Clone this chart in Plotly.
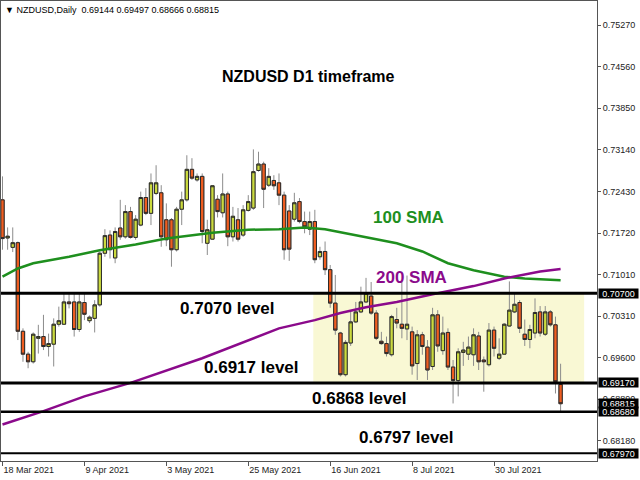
import plotly.graph_objects as go

# ---------------- data ----------------
opens = [0.7229,0.7164,0.7148,0.7156,0.7005,0.6966,0.6953,0.6993,0.6996,0.6979,
         0.6983,0.7017,0.7017,0.7055,0.7055,0.7008,0.7054,0.7023,0.7027,0.7050,
         0.7138,0.7169,0.7130,0.7181,0.7166,0.7209,0.7165,0.7186,0.7233,0.7206,
         0.7240,0.7241,0.7195,0.7195,0.7144,0.7213,0.7229,0.7281,0.7263,0.7269,
         0.7155,0.7162,0.7230,0.7207,0.7239,0.7166,0.7195,0.7169,0.7211,0.7215,
         0.7279,0.7290,0.7254,0.7262,0.7258,0.7237,0.7210,0.7196,0.7226,0.7192,
         0.7179,0.7192,0.7132,0.7141,0.7110,0.7053,0.7002,0.6931,0.6985,0.7021,
         0.7038,0.7055,0.7065,0.7036,0.6988,0.6984,0.6965,0.7025,0.7017,0.7009,
         0.7004,0.6950,0.6999,0.6978,0.6945,0.7033,0.6972,0.7003,0.6944,0.6921,
         0.6969,0.6966,0.6965,0.6997,0.6956,0.6948,0.7007,0.6959,0.6966,0.7014,
         0.7038,0.7054,0.7000,0.6991,0.7002,0.7038,0.7000,0.7038,0.7016,0.69144]
highs = [0.7269,0.7182,0.7182,0.7158,0.7010,0.6970,0.7003,0.7016,0.7033,0.7001,
         0.7027,0.7047,0.7070,0.7072,0.7070,0.7070,0.7070,0.7032,0.7058,0.7141,
         0.7179,0.7177,0.7182,0.7229,0.7220,0.7217,0.7203,0.7243,0.7249,0.7274,
         0.7288,0.7254,0.7223,0.7198,0.7217,0.7243,0.7305,0.7300,0.7274,0.7274,
         0.7195,0.7254,0.7237,0.7274,0.7243,0.7217,0.7215,0.7220,0.7237,0.7315,
         0.7311,0.7294,0.7283,0.7271,0.7274,0.7243,0.7220,0.7241,0.7232,0.7209,
         0.7209,0.7212,0.7149,0.7158,0.7118,0.7101,0.7004,0.6990,0.7041,0.7055,
         0.7081,0.7096,0.7089,0.7041,0.7004,0.6996,0.7033,0.7045,0.7090,0.7100,
         0.7013,0.7007,0.7004,0.6990,0.7045,0.7041,0.7030,0.7010,0.6956,0.6976,
         0.6987,0.6996,0.7010,0.7004,0.6962,0.7019,0.7013,0.6993,0.7019,0.7090,
         0.7070,0.7058,0.7025,0.7016,0.7061,0.7048,0.7048,0.7041,0.7030,0.69497]
lows =  [0.7144,0.7144,0.7140,0.6990,0.6953,0.6942,0.6950,0.6967,0.6973,0.6962,
         0.6945,0.7013,0.7016,0.7044,0.6996,0.7004,0.7024,0.7019,0.7003,0.7047,
         0.7132,0.7129,0.7121,0.7161,0.7163,0.7163,0.7161,0.7184,0.7203,0.7186,
         0.7237,0.7149,0.7150,0.7115,0.7141,0.7186,0.7226,0.7263,0.7260,0.7155,
         0.7135,0.7161,0.7199,0.7199,0.7150,0.7158,0.7158,0.7166,0.7209,0.7212,
         0.7277,0.7215,0.7251,0.7246,0.7220,0.7127,0.7125,0.7192,0.7189,0.7172,
         0.7169,0.7121,0.7127,0.7101,0.7045,0.6999,0.6928,0.6928,0.6980,0.7019,
         0.7036,0.7053,0.7033,0.6990,0.6982,0.6962,0.6962,0.7010,0.6993,0.6990,
         0.6931,0.6922,0.6965,0.6922,0.6939,0.6970,0.6965,0.6939,0.6882,0.6894,
         0.6946,0.6956,0.6946,0.6939,0.6902,0.6945,0.6962,0.6956,0.6965,0.7013,
         0.7036,0.7002,0.6980,0.6976,0.6993,0.6996,0.6997,0.7013,0.6899,0.68666]
closes = [0.7163,0.7167,0.7156,0.7005,0.6966,0.6953,0.7000,0.6996,0.6979,0.6984,
          0.7017,0.7023,0.7055,0.7052,0.7008,0.7055,0.7034,0.7029,0.7050,0.7138,
          0.7168,0.7144,0.7175,0.7166,0.7209,0.7165,0.7196,0.7233,0.7206,0.7258,
          0.7258,0.7166,0.7161,0.7144,0.7213,0.7229,0.7281,0.7266,0.7269,0.7175,
          0.7178,0.7253,0.7209,0.7239,0.7166,0.7201,0.7162,0.7212,0.7226,0.7277,
          0.7290,0.7247,0.7269,0.7253,0.7237,0.7144,0.7145,0.7224,0.7192,0.7183,
          0.7192,0.7127,0.7141,0.7110,0.7053,0.7007,0.6931,0.6986,0.7021,0.7038,
          0.7055,0.7070,0.7036,0.6993,0.6984,0.6967,0.7030,0.7019,0.7010,0.7017,
          0.6946,0.6999,0.6979,0.6939,0.7033,0.6980,0.7002,0.6944,0.6921,0.6970,
          0.6973,0.6978,0.6999,0.6953,0.6953,0.7007,0.6976,0.6966,0.7017,0.7041,
          0.7051,0.7010,0.6991,0.7008,0.7037,0.7002,0.7038,0.7016,0.6919,0.68815]
bar_index = list(range(len(closes)))

date_tick_index = [0, 16, 32, 48, 64, 80, 96]
date_tick_labels = ["18 Mar 2021", "9 Apr 2021", "3 May 2021", "25 May 2021",
                    "16 Jun 2021", "8 Jul 2021", "30 Jul 2021"]

sma100_index = [0, 3, 6, 13, 19, 26, 32, 39, 41, 48, 54, 59, 63, 67, 72, 77, 82, 87, 92, 98, 102, 105, 109]
sma100_value = [0.7098, 0.7112, 0.7121, 0.7132, 0.7143, 0.7153, 0.7163, 0.7170, 0.7173, 0.7178,
                0.7179, 0.7182, 0.7179, 0.7172, 0.7163, 0.7155, 0.7141, 0.7121, 0.7109, 0.7098,
                0.7095, 0.7094, 0.7092]
sma200_index = [0, 8, 16, 25, 39, 48, 54, 61, 66, 71, 77, 84, 89, 92, 98, 105, 109]
sma200_value = [0.6846, 0.6869, 0.6894, 0.6917, 0.6959, 0.6990, 0.7010, 0.7024, 0.7036, 0.7046,
                0.7055, 0.7068, 0.7077, 0.7082, 0.7095, 0.7107, 0.7111]

price_ticks = [0.7527, 0.7456, 0.7385, 0.7314, 0.7243, 0.7172, 0.7101, 0.7031, 0.6960, 0.6889, 0.6818]
levels = [0.7070, 0.6917, 0.6868, 0.6797]
level_widths = [3, 3, 2.5, 2]
level_texts = ["0.7070 level", "0.6917 level", "0.6868 level", "0.6797 level"]
zone_start, zone_end = 60.7, 113.6   # consolidation box, in bars

UP = "#CBDA3E"
DN = "#EF5D20"

fig = go.Figure()

# wicks (grey) - full candles
fig.add_trace(go.Candlestick(
    x=bar_index, open=opens, high=highs, low=lows, close=closes,
    increasing=dict(line=dict(color="#8c8c8c", width=1), fillcolor=UP),
    decreasing=dict(line=dict(color="#8c8c8c", width=1), fillcolor=DN),
    whiskerwidth=0, showlegend=False, hoverinfo="skip"))
# bodies with dark outline
body_hi = [max(o, c) for o, c in zip(opens, closes)]
body_lo = [min(o, c) for o, c in zip(opens, closes)]
fig.add_trace(go.Candlestick(
    x=bar_index, open=opens, high=body_hi, low=body_lo, close=closes,
    increasing=dict(line=dict(color="#2a2a2a", width=1), fillcolor=UP),
    decreasing=dict(line=dict(color="#2a2a2a", width=1), fillcolor=DN),
    whiskerwidth=0, showlegend=False, hoverinfo="skip"))

fig.add_trace(go.Scatter(x=sma100_index, y=sma100_value, mode="lines",
                         line=dict(color="#1E8F1E", width=2.5), showlegend=False, hoverinfo="skip"))
fig.add_trace(go.Scatter(x=sma200_index, y=sma200_value, mode="lines",
                         line=dict(color="#8B0A8B", width=2.5), showlegend=False, hoverinfo="skip"))

shapes = [dict(type="rect", xref="x", yref="y", x0=zone_start, x1=zone_end,
               y0=levels[1], y1=levels[0], fillcolor="#F9F8D4", line=dict(width=0), layer="below")]
for lv, w in zip(levels, level_widths):
    shapes.append(dict(type="line", xref="paper", yref="y", x0=0, x1=1, y0=lv, y1=lv,
                       line=dict(color="black", width=w), layer="above"))

BF = "Liberation Sans"
ann = []
# header
ann.append(dict(xref="paper", yref="paper", x=0, y=1, xanchor="left", yanchor="top",
                xshift=2, yshift=-2, showarrow=False,
                text="▼ NZDUSD,Daily  " + " ".join(f"{v:.5f}" for v in
                                                  (opens[-1], highs[-1], lows[-1], closes[-1])),
                font=dict(family=BF, size=9, color="black")))
# title
ann.append(dict(xref="paper", yref="paper", x=0.367, y=0.835, xanchor="left", yanchor="middle",
                showarrow=False, text="<b>NZDUSD D1 timeframe</b>",
                font=dict(family=BF, size=16, color="black")))
ann.append(dict(xref="x", yref="y", x=72, y=0.7199, xanchor="left", yanchor="middle",
                showarrow=False, text="<b>100 SMA</b>", font=dict(family=BF, size=17, color="#1E8F1E")))
ann.append(dict(xref="x", yref="y", x=72.6, y=0.7097, xanchor="left", yanchor="middle",
                showarrow=False, text="<b>200 SMA</b>", font=dict(family=BF, size=17, color="#8B0A8B")))
label_pos = [(34.2, 0.7043), (39.0, 0.6943), (60, 0.6890), (69.3, 0.6824)]
for (lx, ly), t in zip(label_pos, level_texts):
    ann.append(dict(xref="x", yref="y", x=lx, y=ly, xanchor="left", yanchor="middle",
                    showarrow=False, text=f"<b>{t}</b>", font=dict(family=BF, size=17, color="black")))
# black price boxes on the axis
for v in levels[:2] + [closes[-1]] + levels[2:]:
    ann.append(dict(xref="paper", yref="y", x=1, y=v, xanchor="left", yanchor="middle",
                    xshift=1, showarrow=False, text=f"{v:.5f}", bgcolor="black",
                    width=39, height=9, borderpad=0,
                    font=dict(family=BF, size=9, color="white")))

fig.update_layout(
    width=640, height=480, margin=dict(l=1, r=43, t=1, b=19),
    paper_bgcolor="white", plot_bgcolor="white",
    boxgap=0.35, boxgroupgap=0,
    shapes=shapes, annotations=ann, showlegend=False,
    xaxis=dict(range=[-0.293, 116.11], rangeslider=dict(visible=False),
               tickmode="array", tickvals=date_tick_index, ticktext=date_tick_labels,
               ticks="outside", ticklen=4, tickcolor="#555", showgrid=False, zeroline=False,
               showline=True, linecolor="#555", linewidth=1, mirror=True,
               ticklabelposition="outside right",
               tickfont=dict(family=BF, size=9, color="#222")),
    yaxis=dict(range=[0.67839, 0.75679], side="right", tickmode="array",
               tickvals=price_ticks, ticktext=[f"{v:.5f}" for v in price_ticks],
               ticks="outside", ticklen=3, tickcolor="#555", showgrid=False, zeroline=False,
               showline=True, linecolor="#555", linewidth=1, mirror=True,
               tickfont=dict(family=BF, size=9, color="#222")),
)

fig.write_html("out.html", config={"displayModeBar": False},
               post_script="document.body.style.margin='0px';document.body.style.overflow='hidden';")
